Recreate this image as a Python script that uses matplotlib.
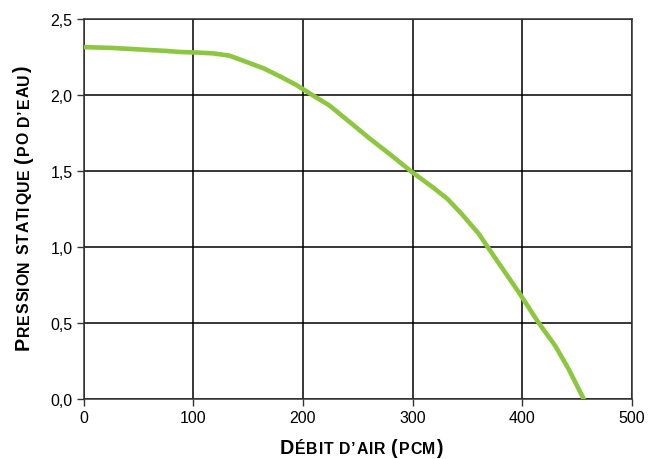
import matplotlib
matplotlib.use("Agg")
import matplotlib.pyplot as plt

plt.rcParams['font.family'] = ['Liberation Sans', 'DejaVu Sans']

debit = [0, 25, 50, 75, 88, 105, 118, 133, 148, 164, 179, 194, 209, 224, 242,
         261, 279, 300, 318, 332, 345, 360, 376, 397, 415, 430, 442, 456]
pression = [2.315, 2.31, 2.30, 2.29, 2.283, 2.279, 2.274, 2.259, 2.219, 2.176,
            2.123, 2.066, 1.998, 1.932, 1.826, 1.713, 1.612, 1.49, 1.395, 1.315,
            1.215, 1.09, 0.92, 0.70, 0.50, 0.35, 0.20, 0.0]
xticks = [0, 100, 200, 300, 400, 500]
yticks = [0.0, 0.5, 1.0, 1.5, 2.0, 2.5]
ytick_labels = ["0,0", "0,5", "1,0", "1,5", "2,0", "2,5"]
xlabel_parts = [("D", True), ("ÉBIT D’AIR ", False), ("(", True), ("PCM", False), (")", True)]
ylabel_parts = [("P", True), ("RESSION STATIQUE ", False), ("(", True), ("PO D’EAU", False), (")", True)]

W, H = 652, 460
fig = plt.figure(figsize=(W/100, H/100), dpi=100)
ax = fig.add_axes([83.5/W, 1-400/H, (632-83.5)/W, 380/H])
ax.plot(debit, pression, color="#8DC63F", lw=3.3, solid_capstyle='round',
        solid_joinstyle='round', zorder=3)
ax.set_xlim(0, 500)
ax.set_ylim(0, 2.5)
ax.set_xticks(xticks)
ax.set_xticklabels([str(v) for v in xticks])
ax.set_yticks(yticks)
ax.set_yticklabels(ytick_labels)
ax.grid(True, color="black", lw=1.1)
for s in ax.spines.values():
    s.set_color("#333333")
    s.set_linewidth(1.1)
ax.tick_params(direction='out', length=5, width=1.0, color="#333333",
               labelsize=11.5, pad=3)

BIG = 14.2
SMALL = 11.4
TRACK = 0.8  # px of extra letter spacing

renderer = fig.canvas.get_renderer()

def text_w(s, size):
    t = fig.text(0, 0, s, fontsize=size, fontweight='bold')
    w = t.get_window_extent(renderer).width
    t.remove()
    return w

def advance(ch, size):
    if ch == " ":
        return 0.32 * size * 100 / 72
    return text_w("H" + ch + "H", size) - text_w("HH", size)

def small_caps(parts, x0, y0, rotation=0):
    pos = 0.0
    for txt, big in parts:
        size = BIG if big else SMALL
        for ch in txt:
            adv = advance(ch, size)
            if ch != " ":
                if rotation == 0:
                    fig.text((x0 + pos)/W, y0/H, ch, fontsize=size, fontweight='bold',
                             ha='left', va='baseline', rotation=0)
                else:
                    fig.text(x0/W, (y0 + pos)/H, ch, fontsize=size, fontweight='bold',
                             ha='left', va='baseline', rotation=90, rotation_mode='anchor')
                pos += adv + TRACK
            else:
                pos += adv

small_caps(xlabel_parts, 280, H - 454)
small_caps(ylabel_parts, 28.5, H - 350, rotation=90)

fig.savefig("out.png", dpi=100)
